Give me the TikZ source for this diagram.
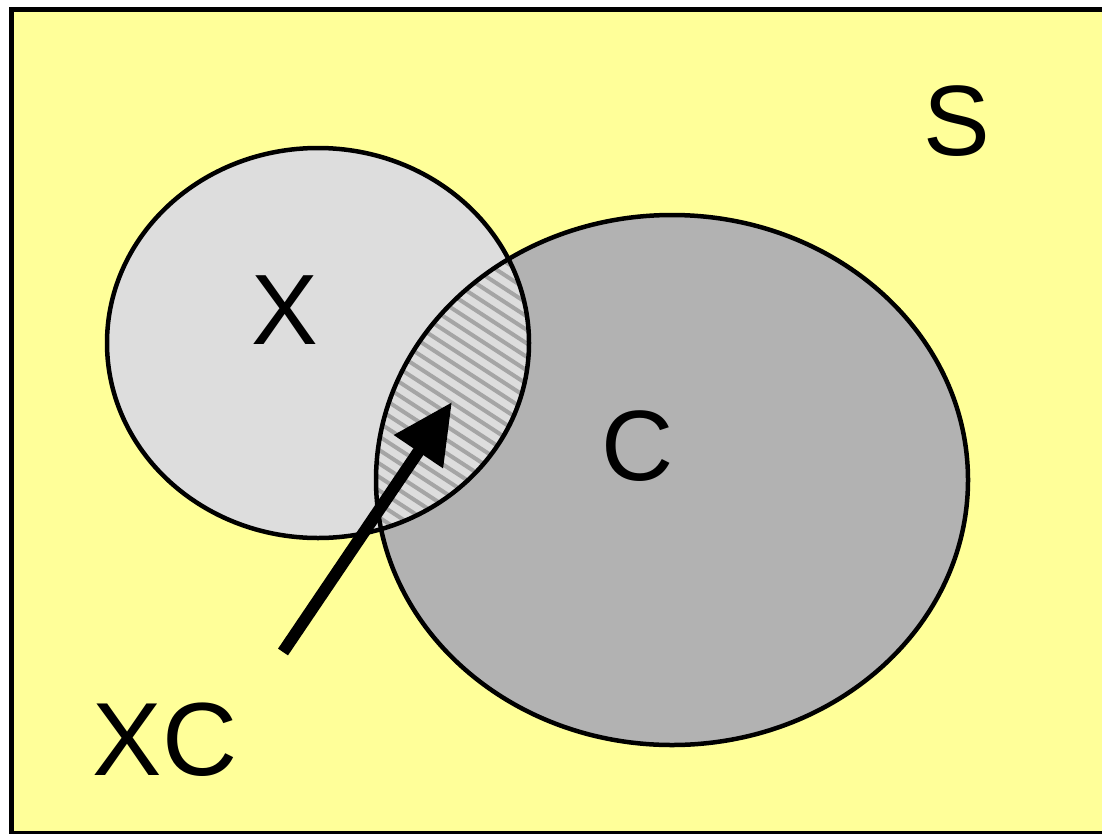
\documentclass[tikz,border=0pt]{standalone}
\usepackage{fontspec}
\setmainfont{Liberation Sans}
\usetikzlibrary{arrows.meta}
\definecolor{bgyellow}{RGB}{255,255,153}
\definecolor{xgray}{RGB}{221,221,221}
\definecolor{cgray}{RGB}{178,178,178}
\definecolor{hatchgray}{RGB}{165,165,165}
\tikzset{
  outline/.style={draw=black,line width=4.5},
  hatchline/.style={draw=hatchgray,line width=4},
  biglabel/.style={font=\fontsize{100}{120}\selectfont,inner sep=0pt},
  pointer/.style={line width=12,-{Triangle[length=60,width=56]}}
}
\begin{document}
\begin{tikzpicture}[x=1pt,y=-1pt]
\useasboundingbox (0,0) rectangle (1102,833);
% universe
\fill[bgyellow] (11,9.5) rectangle (1110,833.5);
\draw[line width=5] (11,9.5) rectangle (1110,833.5);
% sets
\fill[xgray] (318,343) ellipse [x radius=211,y radius=195];
\fill[cgray] (672,480) ellipse [x radius=296,y radius=265];
% intersection hatch
\begin{scope}
  \clip (318,343) ellipse [x radius=211,y radius=195];
  \clip (672,480) ellipse [x radius=296,y radius=265];
  \fill[xgray] (300,200) rectangle (560,600);
  \foreach \k in {0,...,40}{
    \draw[hatchline] (350,{80+13.5*\k}) -- ++(220,143);
  }
\end{scope}
\draw[outline] (318,343) ellipse [x radius=211,y radius=195];
\draw[outline] (672,480) ellipse [x radius=296,y radius=265];
% labels
\node[biglabel] (S) at (957,121) {S};
\node[biglabel] (X) at (285,310) {X};
\node[biglabel] (C) at (638,446) {C};
\node[biglabel,font=\fontsize{104}{124}\selectfont] (XC) at (165,740) {XC};
\coordinate (tail) at (283,652);
\coordinate (tip) at (452,402);
\draw[pointer] (tail) -- (tip);
\end{tikzpicture}
\end{document}
